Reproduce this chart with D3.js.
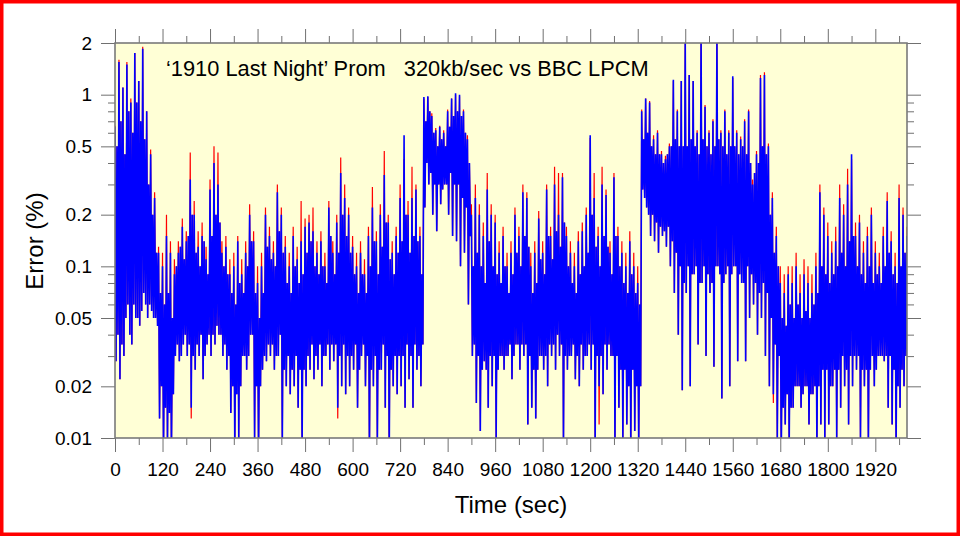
<!DOCTYPE html>
<html><head><meta charset="utf-8">
<script src="https://cdn.jsdelivr.net/npm/d3@7"></script>
<style>html,body{margin:0;padding:0;background:#fff;} svg{display:block;font-family:"Liberation Sans",Arial,Helvetica,sans-serif;}</style>
</head><body><svg id="c" width="960" height="536"></svg>
<script>
// sample spacing (seconds); each 10 s holds: swing peak, swing dip, band top, band bottom
const timeStep = 2.5;
// blue (320kb/sec vs BBC LPCM) excursions: peak, dip pairs every 10 s
const blueSwing = [
 0.65,0.028,1.55,0.022,1.1,0.03,1.5,0.06,0.9,0.035,1.75,0.05,1.2,0.045,1.85,0.07,0.8,0.05,0.45,0.055,0.25,0.05,0.12,0.013,
 0.1,0.008,0.15,0.009,0.12,0.008,0.09,0.03,0.12,0.028,0.17,0.035,0.14,0.03,0.32,0.015,0.2,0.025,0.13,0.03,0.15,0.022,0.11,0.035,
 0.28,0.03,0.4,0.035,0.3,0.04,0.12,0.03,0.13,0.025,0.09,0.014,0.1,0.009,0.14,0.01,0.09,0.03,0.12,0.025,0.2,0.04,0.14,0.01,
 0.08,0.008,0.1,0.025,0.2,0.028,0.15,0.03,0.12,0.025,0.27,0.03,0.2,0.009,0.13,0.02,0.1,0.018,0.15,0.02,0.11,0.015,0.14,0.009,
 0.17,0.02,0.18,0.025,0.16,0.022,0.12,0.025,0.14,0.02,0.1,0.03,0.22,0.025,0.12,0.028,0.18,0.015,0.35,0.02,0.25,0.018,0.2,0.02,
 0.13,0.025,0.1,0.015,0.12,0.03,0.09,0.02,0.15,0.008,0.22,0.02,0.14,0.009,0.2,0.025,0.34,0.015,0.18,0.008,0.12,0.02,0.15,0.018,
 0.25,0.02,0.58,0.015,0.2,0.022,0.25,0.015,0.28,0.025,0.15,0.02,0.97,0.22,0.98,0.3,0.75,0.2,0.62,0.16,0.65,0.23,0.6,0.3,
 0.8,0.2,0.95,0.15,1.02,0.14,1.0,0.1,0.8,0.12,0.55,0.06,0.2,0.03,0.25,0.016,0.2,0.011,0.15,0.028,0.28,0.015,0.2,0.02,
 0.18,0.01,0.12,0.03,0.15,0.025,0.1,0.03,0.12,0.022,0.2,0.035,0.15,0.025,0.27,0.03,0.25,0.012,0.1,0.015,0.12,0.013,0.19,0.03,
 0.12,0.025,0.28,0.02,0.15,0.03,0.3,0.025,0.2,0.03,0.33,0.009,0.15,0.025,0.12,0.03,0.1,0.022,0.14,0.02,0.16,0.025,0.2,0.03,
 0.58,0.025,0.25,0.009,0.15,0.02,0.3,0.018,0.26,0.025,0.12,0.03,0.33,0.009,0.15,0.015,0.12,0.01,0.1,0.012,0.14,0.009,0.1,0.011,
 0.08,0.009,0.8,0.28,0.95,0.22,0.9,0.15,0.55,0.14,0.6,0.12,0.45,0.15,0.42,0.13,0.5,0.1,1.22,0.07,0.8,0.04,1.2,0.019,
 2.1,0.07,1.3,0.02,1.2,0.09,0.6,0.035,2.1,0.08,0.85,0.03,0.6,0.07,0.7,0.026,2.1,0.1,0.6,0.017,0.8,0.09,0.6,0.02,
 1.28,0.1,0.6,0.028,0.55,0.08,0.7,0.028,0.8,0.05,0.3,0.06,0.45,0.04,1.25,0.05,1.3,0.03,0.5,0.02,0.25,0.018,0.15,0.01,
 0.08,0.008,0.07,0.012,0.09,0.009,0.08,0.015,0.1,0.02,0.07,0.015,0.09,0.02,0.08,0.012,0.07,0.018,0.1,0.009,0.27,0.012,0.2,0.01,
 0.15,0.012,0.12,0.02,0.14,0.01,0.25,0.015,0.2,0.02,0.3,0.012,0.45,0.02,0.15,0.025,0.18,0.01,0.12,0.02,0.15,0.009,0.2,0.03,
 0.12,0.025,0.1,0.03,0.15,0.028,0.24,0.015,0.14,0.012,0.1,0.009,0.25,0.015,0.2,0.02,0.15
];
// red series excursions: peak, dip pairs every 10 s
const redSwing = [
 0.66,0.028,1.6,0.022,1.1,0.03,1.55,0.06,0.95,0.035,1.75,0.05,1.2,0.045,1.9,0.07,0.8,0.05,0.48,0.055,0.27,0.05,0.13,0.013,
 0.12,0.008,0.2,0.009,0.14,0.008,0.11,0.03,0.14,0.028,0.19,0.035,0.16,0.03,0.46,0.013,0.24,0.025,0.16,0.03,0.18,0.022,0.13,0.035,
 0.32,0.03,0.5,0.035,0.46,0.04,0.14,0.03,0.15,0.025,0.11,0.014,0.12,0.009,0.15,0.01,0.11,0.03,0.14,0.025,0.23,0.04,0.16,0.01,
 0.1,0.008,0.12,0.025,0.22,0.028,0.17,0.03,0.14,0.025,0.3,0.03,0.22,0.009,0.15,0.02,0.12,0.018,0.17,0.02,0.13,0.015,0.24,0.009,
 0.19,0.02,0.2,0.025,0.22,0.022,0.14,0.025,0.16,0.02,0.12,0.03,0.24,0.025,0.14,0.028,0.2,0.013,0.43,0.02,0.3,0.018,0.22,0.02,
 0.15,0.025,0.12,0.015,0.14,0.03,0.11,0.02,0.17,0.008,0.29,0.02,0.16,0.009,0.23,0.025,0.47,0.015,0.2,0.008,0.14,0.02,0.17,0.018,
 0.3,0.02,0.42,0.015,0.24,0.022,0.38,0.015,0.3,0.025,0.17,0.02,0.95,0.22,0.97,0.3,0.78,0.2,0.64,0.16,0.66,0.23,0.62,0.3,
 0.82,0.2,0.95,0.15,1.0,0.14,0.98,0.1,0.82,0.12,0.58,0.06,0.23,0.03,0.3,0.016,0.23,0.011,0.18,0.028,0.35,0.015,0.23,0.02,
 0.2,0.01,0.14,0.03,0.17,0.025,0.12,0.03,0.14,0.022,0.22,0.035,0.17,0.025,0.3,0.03,0.27,0.012,0.12,0.015,0.14,0.013,0.21,0.03,
 0.14,0.025,0.3,0.02,0.17,0.03,0.38,0.025,0.35,0.03,0.35,0.009,0.17,0.025,0.14,0.03,0.12,0.022,0.16,0.02,0.18,0.025,0.22,0.03,
 0.56,0.025,0.35,0.009,0.17,0.012,0.38,0.018,0.28,0.025,0.14,0.03,0.35,0.009,0.17,0.015,0.14,0.01,0.12,0.012,0.16,0.009,0.12,0.011,
 0.1,0.009,0.82,0.28,0.95,0.22,0.92,0.15,0.58,0.14,0.62,0.12,0.47,0.15,0.44,0.13,0.52,0.1,1.2,0.07,0.82,0.04,1.2,0.019,
 2.1,0.07,1.3,0.02,1.2,0.09,0.62,0.035,2.1,0.08,0.87,0.03,0.62,0.07,0.72,0.026,2.1,0.1,0.62,0.017,0.82,0.09,0.62,0.02,
 1.25,0.1,0.62,0.028,0.57,0.08,0.72,0.028,0.82,0.05,0.32,0.06,0.47,0.04,1.3,0.05,1.35,0.03,0.52,0.02,0.27,0.016,0.17,0.009,
 0.1,0.008,0.09,0.012,0.1,0.009,0.1,0.015,0.12,0.02,0.09,0.015,0.11,0.02,0.1,0.012,0.09,0.018,0.12,0.009,0.3,0.012,0.22,0.01,
 0.18,0.012,0.14,0.02,0.17,0.01,0.3,0.015,0.23,0.02,0.37,0.012,0.42,0.02,0.18,0.025,0.2,0.01,0.14,0.02,0.17,0.009,0.22,0.03,
 0.14,0.025,0.12,0.03,0.17,0.028,0.27,0.015,0.16,0.012,0.12,0.009,0.3,0.015,0.22,0.02,0.17
];
// dense band samples (top, bottom pairs every 10 s), common to both series
const bandSamples = [
 0.5,0.04,0.7,0.035,0.45,0.05,0.8,0.04,0.6,0.06,0.9,0.05,0.7,0.055,0.55,0.06,0.3,0.06,0.2,0.05,0.12,0.045,0.07,0.02,
 0.06,0.015,0.07,0.014,0.05,0.018,0.1,0.035,0.13,0.03,0.11,0.04,0.15,0.035,0.2,0.03,0.12,0.035,0.1,0.04,0.14,0.03,0.09,0.04,
 0.15,0.04,0.2,0.045,0.18,0.04,0.1,0.035,0.09,0.03,0.07,0.02,0.06,0.018,0.08,0.02,0.07,0.03,0.1,0.03,0.14,0.04,0.07,0.02,
 0.05,0.02,0.07,0.03,0.13,0.035,0.11,0.035,0.1,0.03,0.16,0.04,0.12,0.025,0.08,0.03,0.07,0.025,0.1,0.03,0.08,0.025,0.09,0.025,
 0.12,0.03,0.14,0.035,0.1,0.03,0.09,0.035,0.1,0.03,0.08,0.035,0.15,0.035,0.09,0.035,0.12,0.03,0.2,0.035,0.15,0.03,0.12,0.03,
 0.09,0.035,0.07,0.025,0.09,0.035,0.07,0.03,0.1,0.025,0.14,0.03,0.09,0.025,0.13,0.035,0.18,0.03,0.11,0.025,0.09,0.03,0.12,0.03,
 0.14,0.03,0.2,0.035,0.12,0.03,0.15,0.035,0.14,0.03,0.09,0.035,0.7,0.4,0.8,0.35,0.6,0.3,0.5,0.3,0.55,0.28,0.5,0.3,
 0.65,0.35,0.75,0.3,0.8,0.3,0.75,0.25,0.6,0.22,0.4,0.15,0.1,0.035,0.12,0.03,0.1,0.025,0.08,0.025,0.14,0.03,0.1,0.03,
 0.09,0.025,0.08,0.03,0.1,0.03,0.07,0.035,0.09,0.03,0.12,0.035,0.1,0.035,0.15,0.035,0.13,0.03,0.07,0.025,0.08,0.025,0.11,0.03,
 0.09,0.03,0.15,0.035,0.11,0.035,0.16,0.04,0.13,0.035,0.18,0.03,0.1,0.03,0.08,0.035,0.07,0.03,0.09,0.035,0.1,0.03,0.12,0.035,
 0.2,0.035,0.13,0.03,0.1,0.03,0.15,0.035,0.13,0.035,0.09,0.03,0.15,0.03,0.1,0.025,0.08,0.025,0.07,0.02,0.09,0.025,0.07,0.02,
 0.06,0.02,0.55,0.25,0.6,0.2,0.5,0.2,0.45,0.18,0.45,0.17,0.4,0.16,0.45,0.17,0.5,0.14,0.55,0.12,0.5,0.1,0.5,0.08,
 0.5,0.1,0.55,0.09,0.5,0.1,0.45,0.08,0.55,0.1,0.5,0.09,0.45,0.08,0.5,0.1,0.55,0.09,0.5,0.08,0.45,0.1,0.5,0.09,
 0.5,0.1,0.45,0.09,0.5,0.08,0.45,0.1,0.4,0.09,0.35,0.08,0.4,0.07,0.5,0.08,0.45,0.07,0.2,0.05,0.12,0.035,0.1,0.03,
 0.05,0.015,0.045,0.018,0.06,0.015,0.05,0.02,0.06,0.02,0.05,0.018,0.055,0.02,0.05,0.018,0.06,0.02,0.07,0.02,0.1,0.025,0.09,0.025,
 0.08,0.02,0.09,0.025,0.1,0.025,0.12,0.03,0.1,0.025,0.14,0.03,0.15,0.03,0.1,0.03,0.09,0.025,0.08,0.025,0.1,0.025,0.08,0.02,
 0.09,0.03,0.08,0.03,0.1,0.03,0.12,0.03,0.09,0.025,0.08,0.02,0.1,0.025,0.12,0.03
];
const xMajorTicks = [0,120,240,360,480,600,720,840,960,1080,1200,1320,1440,1560,1680,1800,1920];
const xMinorTicks = [60,180,300,420,540,660,780,900,1020,1140,1260,1380,1500,1620,1740,1860,1980];
const yMajorTicks = [0.01,0.02,0.05,0.1,0.2,0.5,1,2];
const yMajorLabels = ["0.01","0.02","0.05","0.1","0.2","0.5","1","2"];
const yMinorTicks = [0.03,0.04,0.06,0.07,0.08,0.09,0.3,0.4,0.6,0.7,0.8,0.9];
const titleText = "\u20181910 Last Night\u2019 Prom   320kb/sec vs BBC LPCM";
const xTitle = "Time (sec)";
const yTitle = "Error (%)";

// assemble each series in time order: peak, dip, band top, band bottom per 10 s
function assemble(swing, band) {
  const out = [];
  for (let k = 0; k < band.length / 2; k++) {
    out.push(swing[2 * k], swing[2 * k + 1], band[2 * k], band[2 * k + 1]);
  }
  out.push(swing[swing.length - 1]);
  return out;
}
const blueSeries = assemble(blueSwing, bandSamples);
const redSeries = assemble(redSwing, bandSamples);

const svg = d3.select("#c");
const L = 115, R = 907, T = 43, B = 438;
const x = d3.scaleLinear().domain([0, 2000]).range([L, R]);
const y = d3.scaleLog().domain([0.01, 2]).range([B, T]);

svg.append("rect").attr("x", 1.75).attr("y", 1.75).attr("width", 956.5).attr("height", 532.5)
  .attr("fill", "#fff").attr("stroke", "#ff0000").attr("stroke-width", 3.5);

svg.append("rect").attr("x", L).attr("y", T).attr("width", R - L).attr("height", B - T).attr("fill", "#ffffd6");

svg.append("clipPath").attr("id", "pc").append("rect")
  .attr("x", L).attr("y", T).attr("width", R - L).attr("height", B - T);

const line = d3.line().x((d, i) => x(i * timeStep)).y(d => y(d));
const g = svg.append("g").attr("clip-path", "url(#pc)");
g.append("path").datum(redSeries).attr("d", line).attr("fill", "none")
  .attr("stroke", "#ff0000").attr("stroke-width", 1.2);
g.append("path").datum(blueSeries).attr("d", line).attr("fill", "none")
  .attr("stroke", "#0000ff").attr("stroke-width", 1.6);

const tickCol = "#707070";
function styleAxis(sel) {
  sel.select(".domain").remove();
  sel.selectAll(".tick line").attr("stroke", tickCol);
  sel.selectAll(".tick text").attr("fill", "#000").style("font-size", "19px")
    .style("font-family", '"Liberation Sans",Arial,Helvetica,sans-serif');
}
// bottom
svg.append("g").attr("transform", `translate(0,${B})`)
  .call(d3.axisBottom(x).tickValues(xMajorTicks).tickSize(14).tickPadding(11).tickFormat(d => String(d))).call(styleAxis);
svg.append("g").attr("transform", `translate(0,${B})`)
  .call(d3.axisBottom(x).tickValues(xMinorTicks).tickSize(7).tickFormat("")).call(styleAxis);
// top
svg.append("g").attr("transform", `translate(0,${T})`)
  .call(d3.axisTop(x).tickValues(xMajorTicks).tickSize(14).tickFormat("")).call(styleAxis);
svg.append("g").attr("transform", `translate(0,${T})`)
  .call(d3.axisTop(x).tickValues(xMinorTicks).tickSize(7).tickFormat("")).call(styleAxis);
// left
svg.append("g").attr("transform", `translate(${L},0)`)
  .call(d3.axisLeft(y).tickValues(yMajorTicks).tickSize(14).tickPadding(9).tickFormat((d, i) => yMajorLabels[i])).call(styleAxis);
svg.append("g").attr("transform", `translate(${L},0)`)
  .call(d3.axisLeft(y).tickValues(yMinorTicks).tickSize(7).tickFormat("")).call(styleAxis);
// right
svg.append("g").attr("transform", `translate(${R},0)`)
  .call(d3.axisRight(y).tickValues(yMajorTicks).tickSize(14).tickFormat("")).call(styleAxis);
svg.append("g").attr("transform", `translate(${R},0)`)
  .call(d3.axisRight(y).tickValues(yMinorTicks).tickSize(7).tickFormat("")).call(styleAxis);

// frame
svg.append("rect").attr("x", L).attr("y", T).attr("width", R - L).attr("height", B - T)
  .attr("fill", "none").attr("stroke", "#7a7a7a").attr("stroke-width", 1.6);

svg.append("text").attr("x", 166).attr("y", 76).style("font-size", "21.8px").style("white-space", "pre")
  .attr("fill", "#000").text(titleText);
svg.append("text").attr("x", 511).attr("y", 513).attr("text-anchor", "middle").style("font-size", "24px")
  .attr("fill", "#000").text(xTitle);
svg.append("text").attr("transform", "translate(43,241) rotate(-90)").attr("text-anchor", "middle")
  .style("font-size", "24px").attr("fill", "#000").text(yTitle);
</script></body></html>
